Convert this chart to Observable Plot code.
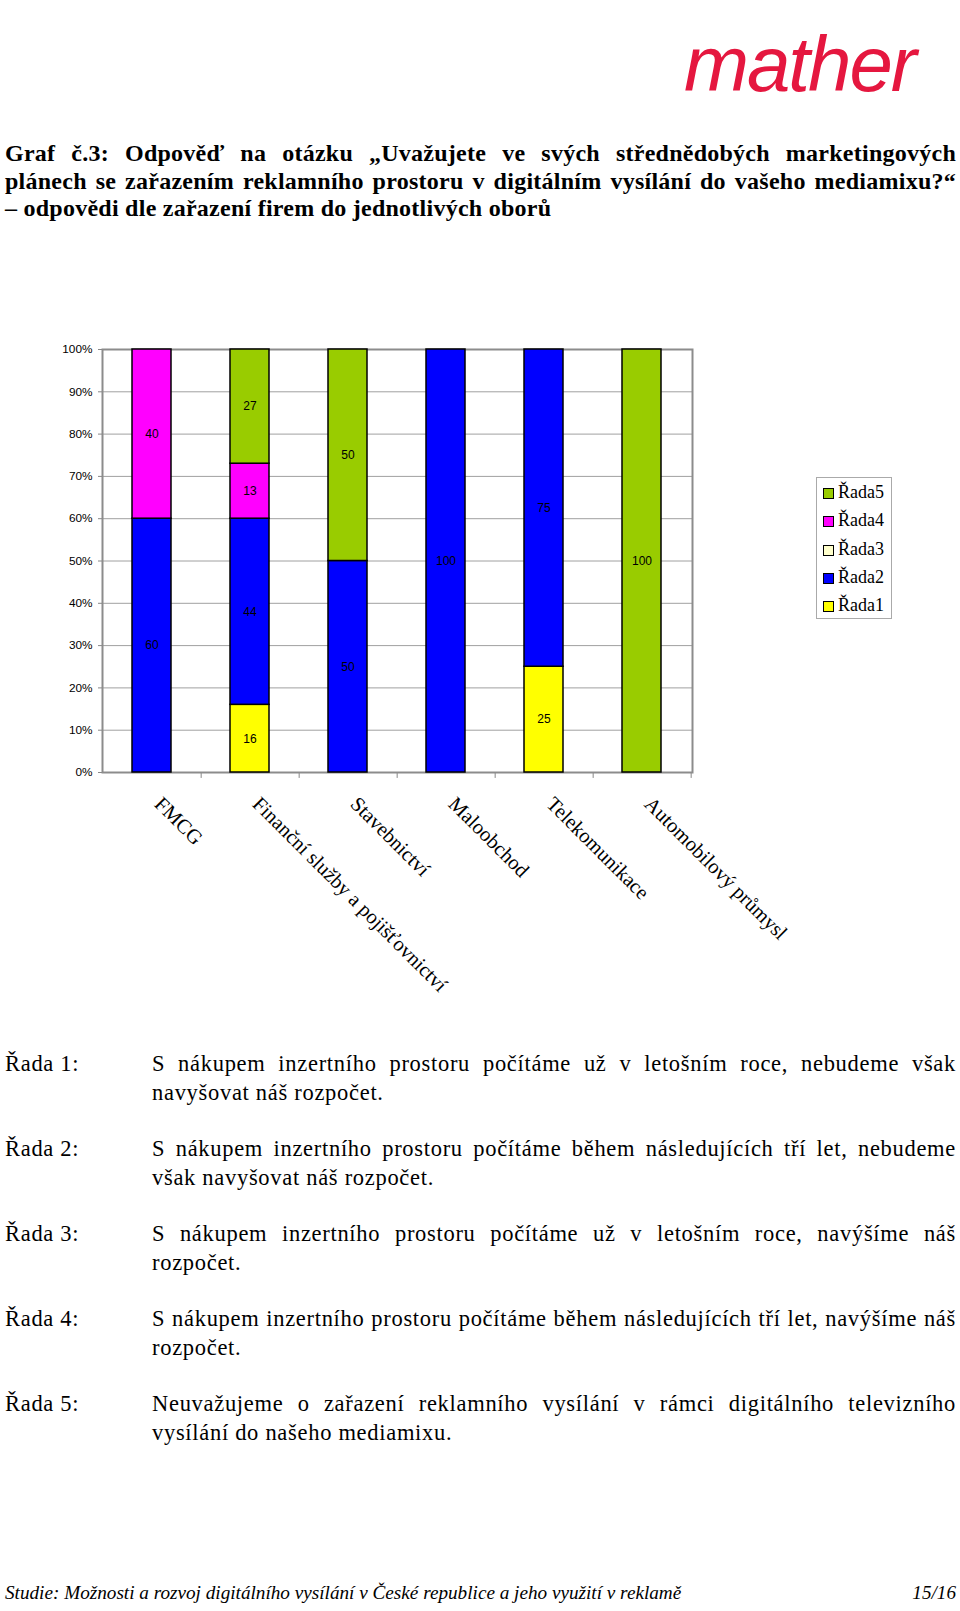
<!DOCTYPE html>
<html><head><meta charset="utf-8">
<script src="https://cdn.jsdelivr.net/npm/d3@7"></script>
<script src="https://cdn.jsdelivr.net/npm/@observablehq/plot@0.6"></script>
<style>
body{margin:0;background:#fff;}
#page{position:relative;width:960px;height:1611px;overflow:hidden;font-family:"Liberation Serif","Times New Roman",serif;color:#000;}
.abs{position:absolute;}
#logo{left:684px;top:19px;font-family:"Liberation Sans",Arial,sans-serif;font-size:78px;line-height:90px;color:#e5173f;font-style:italic;letter-spacing:-2px;}
#title{left:5px;top:140px;width:951px;font-weight:bold;font-size:24px;letter-spacing:0.25px;line-height:27.5px;}
.j{text-align:justify;text-align-last:justify;white-space:nowrap;}
.row{left:5px;width:951px;font-size:22.5px;letter-spacing:0.7px;line-height:29px;}
.row .lab{position:absolute;left:0;top:0;}
.row .txt{position:absolute;left:147px;width:804px;}
#chart{left:0;top:330px;}
#legend{left:816px;top:477px;width:74px;height:140px;border:1px solid #aaa;background:#fff;font-size:18px;}
.li{position:absolute;left:6px;height:20px;line-height:20px;}
.sw{display:inline-block;width:9px;height:9px;border:1.5px solid #000;margin-right:4px;vertical-align:-1px;}
#footer{left:5px;top:1581px;width:951px;font-style:italic;font-size:19.2px;line-height:24px;}
#footer .pg{position:absolute;right:0;top:0;}
</style></head><body><div id="page">
<div id="logo" class="abs">mather</div>
<div id="title" class="abs"></div>
<div id="chart" class="abs"></div>
<div id="legend" class="abs"></div>
<div id="rows"></div>
<div id="footer" class="abs"></div>
</div>
<script>
const titleLines = [
  "Graf č.3: Odpověď na otázku „Uvažujete ve svých střednědobých marketingových",
  "plánech se zařazením reklamního prostoru v digitálním vysílání do vašeho mediamixu?“",
  "– odpovědi dle zařazení firem do jednotlivých oborů"
];
const categories = ["FMCG","Finanční služby a pojišťovnictví","Stavebnictví","Maloobchod","Telekomunikace","Automobilový průmysl"];
const seriesNames = ["Řada1","Řada2","Řada3","Řada4","Řada5"];
const seriesColors = ["#ffff00","#0000ff","#ffffcc","#ff00ff","#99cc00"];
const rada1 = [0,16,0,0,25,0];
const rada2 = [60,44,50,100,75,0];
const rada3 = [0,0,0,0,0,0];
const rada4 = [40,13,0,0,0,0];
const rada5 = [0,27,50,0,0,100];
const yTicks = [0,10,20,30,40,50,60,70,80,90,100];
const rowLabels = ["Řada 1:","Řada 2:","Řada 3:","Řada 4:","Řada 5:"];
const rowTexts = [
  ["S nákupem inzertního prostoru počítáme už v letošním roce, nebudeme však","navyšovat náš rozpočet."],
  ["S nákupem inzertního prostoru počítáme během následujících tří let, nebudeme","však navyšovat náš rozpočet."],
  ["S nákupem inzertního prostoru počítáme už v letošním roce, navýšíme náš","rozpočet."],
  ["S nákupem inzertního prostoru počítáme během následujících tří let, navýšíme náš","rozpočet."],
  ["Neuvažujeme o zařazení reklamního vysílání v rámci digitálního televizního","vysílání do našeho mediamixu."]
];
const footerText = "Studie: Možnosti a rozvoj digitálního vysílání v České republice a jeho využití v reklamě";
const footerPage = "15/16";

// title
const t = document.getElementById("title");
titleLines.forEach((l,i)=>{const d=document.createElement("div"); d.textContent=l; if(i<2) d.className="j"; t.appendChild(d);});

// rows
const rows = document.getElementById("rows");
rowLabels.forEach((lab,i)=>{
  const r=document.createElement("div"); r.className="abs row"; r.style.top=(1048.5+85*i)+"px";
  const a=document.createElement("div"); a.className="lab"; a.textContent=lab; r.appendChild(a);
  const b=document.createElement("div"); b.className="txt";
  const l1=document.createElement("div"); l1.className="j"; l1.textContent=rowTexts[i][0];
  const l2=document.createElement("div"); l2.textContent=rowTexts[i][1];
  b.appendChild(l1); b.appendChild(l2); r.appendChild(b); rows.appendChild(r);
});

// footer
const f=document.getElementById("footer");
f.innerHTML = "<span></span><span class='pg'></span>";
f.children[0].textContent=footerText; f.children[1].textContent=footerPage;

// legend
const lg=document.getElementById("legend");
[4,3,2,1,0].forEach((k,i)=>{
  const d=document.createElement("div"); d.className="li"; d.style.top=(4+28.3*i)+"px";
  d.innerHTML="<span class='sw' style='background:"+seriesColors[k]+"'></span>"+seriesNames[k];
  lg.appendChild(d);
});

// data table
const allSeries=[rada1,rada2,rada3,rada4,rada5];
const data=[];
allSeries.forEach((vals,s)=>vals.forEach((v,c)=>{ if(v>0) data.push({category:categories[c],series:seriesNames[s],value:v}); }));

const W=960,H=672,ML=102,MR=268,MT=19,MB=230;
const step=(W-ML-MR)/categories.length;

const chart=Plot.plot({
  width:W,height:H,marginTop:MT,marginBottom:MB,marginLeft:ML,marginRight:MR,
  style:{background:"transparent",overflow:"visible"},
  x:{domain:categories,paddingInner:0.6,paddingOuter:0.3,label:null},
  y:{domain:[0,100],label:null},
  color:{domain:seriesNames,range:seriesColors},
  marks:[
    Plot.ruleY(yTicks,{stroke:"#a0a0a0",strokeWidth:1}),
    Plot.ruleX(categories,{x:d=>d,dx:step/2,y1:0,y2:-1.4,stroke:"#888",strokeWidth:1}),
    Plot.frame({stroke:"#8c8c8c",strokeWidth:2}),
    Plot.barY(data,{x:"category",y:"value",fill:"series",stroke:"#000",strokeWidth:1.5}),
    Plot.text(data,Plot.stackY({x:"category",y:"value",z:"series",text:"value",fill:"#000",fontSize:12,fontFamily:"Liberation Sans, Arial, sans-serif"})),
    Plot.axisY({ticks:yTicks,tickFormat:d=>d+"%",tickSize:4,tickPadding:6,fontSize:11.8,fontFamily:"Liberation Sans, Arial, sans-serif",stroke:"#888",label:null}),
    Plot.axisX({tickRotate:45,tickSize:0,tickPadding:28,dx:6,fontSize:20.5,fontFamily:"Liberation Serif, Times New Roman, serif",label:null})
  ]
});
document.getElementById("chart").appendChild(chart);
</script>
</body></html>
